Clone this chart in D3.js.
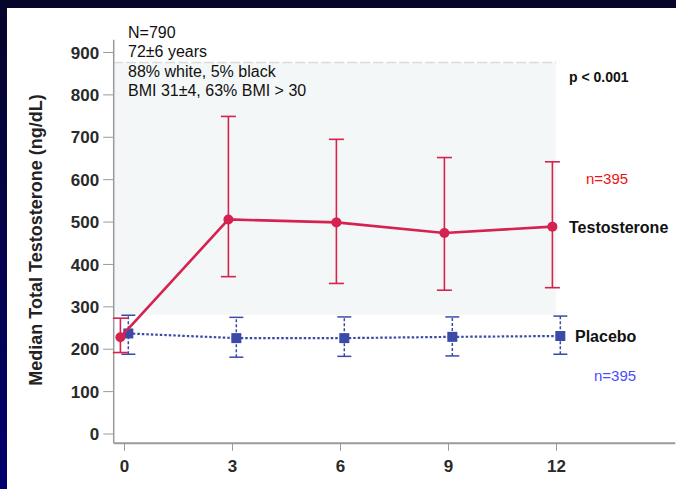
<!DOCTYPE html>
<html lang="en">
  <head>
    <meta charset="utf-8">
    <title>Median Total Testosterone</title>
    <style>
      html, body { margin: 0; padding: 0; background: #fff; overflow: hidden; }
      svg { display: block; }
      text { font-family: "Liberation Sans", Arial, Helvetica, sans-serif; }
      .tick text { font-weight: bold; font-size: 17px; fill: #2a2a2a; }
      .axis path, .axis line { stroke: #9a9a9a; }
    </style>
  </head>
  <body>
    <div id="container"></div>
    <script src="https://cdn.jsdelivr.net/npm/d3@7/dist/d3.min.js"></script>
    <script type="text/javascript">

      // months of follow-up
      var months = [0, 3, 6, 9, 12];
      // testosterone arm: median and error bar ends (ng/dL)
      var testoMedian = [227, 505, 498, 473, 488];
      var testoLow    = [191, 370, 354, 338, 344];
      var testoHigh   = [272, 748, 694, 651, 641];
      // placebo arm
      var placeboMedian = [236, 225, 225, 228, 230];
      var placeboLow    = [187, 180, 182, 183, 187];
      var placeboHigh   = [279, 274, 275, 275, 277];

      var yTicks = [0, 100, 200, 300, 400, 500, 600, 700, 800, 900];
      var xTicks = [0, 3, 6, 9, 12];
      var band = [280, 875];
      var notes = ["N=790", "72\u00B16 years", "88% white, 5% black", "BMI 31\u00B14, 63% BMI > 30"];

      var width = 676, height = 489;
      var red = "#d52250", blue = "#3b4aa6";

      var svg = d3.select('#container').append('svg')
        .attr('width', width).attr('height', height);

      svg.append('rect').attr('width', width).attr('height', height).attr('fill', '#fff');

      // dark frame
      var grad = svg.append('defs').append('linearGradient')
        .attr('id', 'frame').attr('x1', 0).attr('y1', 0).attr('x2', 0).attr('y2', 1);
      grad.append('stop').attr('offset', 0).attr('stop-color', '#06052a');
      grad.append('stop').attr('offset', 1).attr('stop-color', '#01016e');
      svg.append('rect').attr('width', width).attr('height', 8).attr('fill', '#06052a');
      svg.append('rect').attr('width', 7).attr('height', height).attr('fill', 'url(#frame)');

      var x = d3.scaleLinear().domain([-0.3, 15.3]).range([113.2, 674.8]);
      var y = d3.scaleLinear().domain([0, 900]).range([433.5, 52]);
      var yAxisScale = d3.scaleLinear().domain([-22, 930]).range([y(-22), y(930)]);

      // shaded region
      svg.append('rect')
        .attr('x', x(-0.3)).attr('y', y(band[1]))
        .attr('width', x(12) - x(-0.3)).attr('height', y(band[0]) - y(band[1]))
        .attr('fill', '#f4f7f7');
      svg.append('line')
        .attr('x1', x(-0.3)).attr('x2', x(12))
        .attr('y1', y(band[1])).attr('y2', y(band[1]))
        .attr('stroke', '#d8dcdc').attr('stroke-width', 1.5)
        .attr('stroke-dasharray', '10,3');

      // axes
      var gy = svg.append('g').attr('class', 'axis')
        .attr('transform', 'translate(' + x(-0.3) + ',0)')
        .call(d3.axisLeft(yAxisScale).tickValues(yTicks).tickSize(10).tickSizeOuter(0).tickPadding(4));
      gy.select('.domain').attr('stroke-width', 1.5);

      var gx = svg.append('g').attr('class', 'axis')
        .attr('transform', 'translate(0,' + y(-22) + ')')
        .call(d3.axisBottom(x).tickValues(xTicks).tickSize(8).tickSizeOuter(0).tickPadding(9));
      gx.select('.domain').attr('stroke-width', 2);
      gy.selectAll('.tick text').attr('dy', '0.36em');

      svg.append('text')
        .attr('transform', 'translate(42,' + 240 + ') rotate(-90)')
        .attr('text-anchor', 'middle')
        .attr('font-weight', 'bold').attr('font-size', 18).attr('fill', '#222')
        .text('Median Total Testosterone (ng/dL)');

      // placebo
      var pOff = 0.12, tOff = -0.1;
      var pg = svg.append('g');
      var pErr = pg.selectAll('g.perr').data(months).enter().append('g');
      pErr.append('line')
        .attr('x1', function(d){ return x(d + pOff); }).attr('x2', function(d){ return x(d + pOff); })
        .attr('y1', function(d, i){ return y(placeboLow[i]); })
        .attr('y2', function(d, i){ return y(placeboHigh[i]); })
        .attr('stroke', blue).attr('stroke-width', 1.5).attr('stroke-dasharray', '3,2');
      [placeboLow, placeboHigh].forEach(function(arr){
        pErr.append('line')
          .attr('x1', function(d){ return x(d + pOff) - 7; }).attr('x2', function(d){ return x(d + pOff) + 7; })
          .attr('y1', function(d, i){ return y(arr[i]); }).attr('y2', function(d, i){ return y(arr[i]); })
          .attr('stroke', blue).attr('stroke-width', 1.5);
      });
      pg.append('path')
        .datum(months)
        .attr('d', d3.line().x(function(d){ return x(d + pOff); }).y(function(d, i){ return y(placeboMedian[i]); }))
        .attr('fill', 'none').attr('stroke', blue).attr('stroke-width', 2.2).attr('stroke-dasharray', '2.5,2');
      pg.selectAll('rect').data(months).enter().append('rect')
        .attr('x', function(d){ return x(d + pOff) - 5; })
        .attr('y', function(d, i){ return y(placeboMedian[i]) - 5; })
        .attr('width', 10).attr('height', 10).attr('fill', blue);

      // testosterone
      var tg = svg.append('g');
      var tErr = tg.selectAll('g.terr').data(months).enter().append('g');
      tErr.append('line')
        .attr('x1', function(d){ return x(d + tOff); }).attr('x2', function(d){ return x(d + tOff); })
        .attr('y1', function(d, i){ return y(testoLow[i]); })
        .attr('y2', function(d, i){ return y(testoHigh[i]); })
        .attr('stroke', red).attr('stroke-width', 1.6);
      [testoLow, testoHigh].forEach(function(arr){
        tErr.append('line')
          .attr('x1', function(d){ return x(d + tOff) - 7.5; }).attr('x2', function(d){ return x(d + tOff) + 7.5; })
          .attr('y1', function(d, i){ return y(arr[i]); }).attr('y2', function(d, i){ return y(arr[i]); })
          .attr('stroke', red).attr('stroke-width', 1.6);
      });
      tg.append('path')
        .datum(months)
        .attr('d', d3.line().x(function(d){ return x(d + tOff); }).y(function(d, i){ return y(testoMedian[i]); }))
        .attr('fill', 'none').attr('stroke', red).attr('stroke-width', 2.6);
      tg.selectAll('circle').data(months).enter().append('circle')
        .attr('cx', function(d){ return x(d + tOff); })
        .attr('cy', function(d, i){ return y(testoMedian[i]); })
        .attr('r', 5).attr('fill', red);

      // annotations
      var note = svg.append('text').attr('font-size', 16).attr('fill', '#111');
      note.selectAll('tspan').data(notes).enter().append('tspan')
        .attr('x', 128).attr('y', function(d, i){ return 38 + i * 19.3; })
        .text(function(d){ return d; });

      svg.append('text').attr('x', 569).attr('y', 82)
        .attr('font-size', 14).attr('font-weight', 'bold').attr('fill', '#111')
        .text('p < 0.001');
      svg.append('text').attr('x', 586).attr('y', 184)
        .attr('font-size', 15).attr('fill', '#ee1111').text('n=395');
      svg.append('text').attr('x', 569).attr('y', 233)
        .attr('font-size', 16).attr('font-weight', 'bold').attr('fill', '#111').text('Testosterone');
      svg.append('text').attr('x', 575).attr('y', 342)
        .attr('font-size', 16).attr('font-weight', 'bold').attr('fill', '#111').text('Placebo');
      svg.append('text').attr('x', 594).attr('y', 381)
        .attr('font-size', 15).attr('fill', '#4b4bff').text('n=395');

    </script>
  </body>
</html>
